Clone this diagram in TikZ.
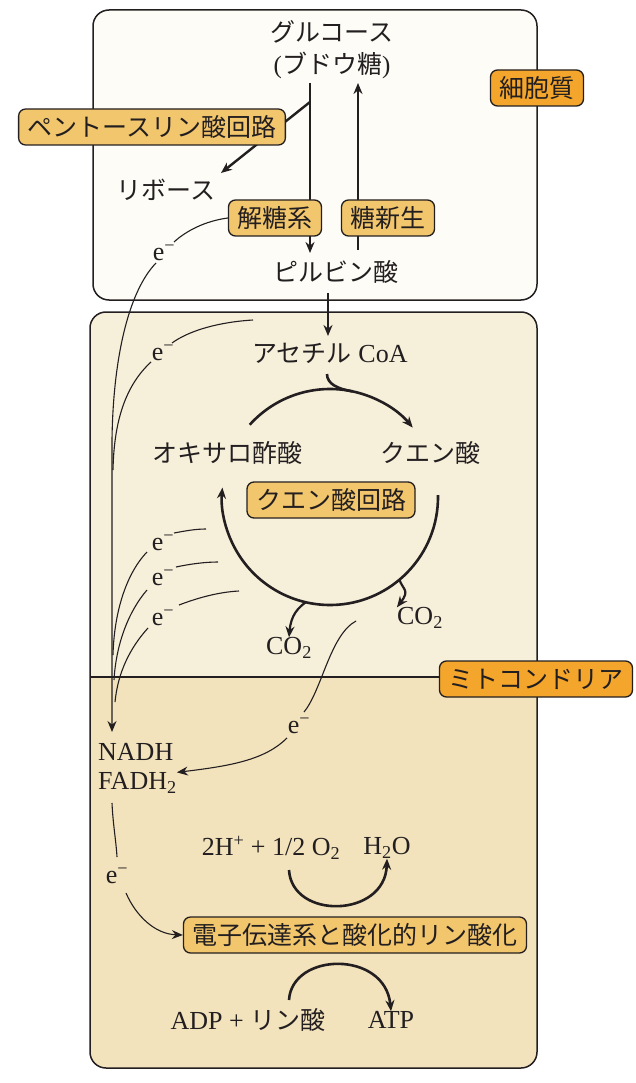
\documentclass[tikz,border=0pt]{standalone}
\usepackage{fontspec}
\setmainfont{Liberation Serif}
\newfontfamily\jp{Noto Sans CJK JP}
\usetikzlibrary{arrows.meta,calc}
\definecolor{ink}{HTML}{231F20}
\definecolor{cytofill}{HTML}{FDFCF6}
\definecolor{mitoup}{HTML}{F6EFDA}
\definecolor{mitolow}{HTML}{F2E3BD}
\definecolor{tagfill}{HTML}{F2C66C}
\definecolor{placefill}{HTML}{F4A52B}
\begin{document}
\begin{tikzpicture}[x=1pt,y=-1pt,
  every node/.style={text=ink,inner sep=0pt},
  jtxt/.style={font=\fontsize{25}{28}\selectfont\jp},
  ltxt/.style={font=\fontsize{26}{28}\selectfont},
  tagbox/.style={draw=ink,line width=1.3pt,fill=tagfill,rounded corners=7pt,
     font=\fontsize{25}{28}\selectfont\jp,inner xsep=9pt,inner ysep=0pt,minimum height=36pt},
  placebox/.style={tagbox,fill=placefill},
  tip/.style={-{Stealth[length=11pt,width=9pt]}},
  flow/.style={draw=ink,line width=2pt},
  cycl/.style={draw=ink,line width=2.6pt},
  eline/.style={draw=ink,line width=1.1pt},
  frame/.style={draw=ink,line width=1.5pt,rounded corners=16pt}]
\useasboundingbox (0,0) rectangle (635,1083);
\fill[white] (0,0) rectangle (635,1083);
% compartments
\path[frame,fill=cytofill] (93,10) rectangle (537,300);
\begin{scope}
  \clip[rounded corners=16pt] (90,312) rectangle (537,1068);
  \fill[mitoup] (90,312) rectangle (537,677);
  \fill[mitolow] (90,677) rectangle (537,1068);
\end{scope}
\path[frame] (90,312) rectangle (537,1068);
\draw[ink,line width=1.3pt] (90,677) -- (537,677);

% text nodes
\node[jtxt] (glc) at (332,32) {グルコース};
\node[jtxt] (glc2) at (332,65) {{\rmfamily(}ブドウ糖{\rmfamily)}};
\node[jtxt] (rib) at (166,190) {リボース};
\node[jtxt] (pyr) at (336,272) {ピルビン酸};
\node[jtxt] (acoa) at (330,353) {アセチル{\rmfamily\fontsize{26}{28}\selectfont\ CoA}};
\node[jtxt] (oaa) at (227,453) {オキサロ酢酸};
\node[jtxt] (cit) at (430,453) {クエン酸};
\node[ltxt] (co2a) at (420,618) {CO\textsubscript{2}};
\node[ltxt] (co2b) at (289,648) {CO\textsubscript{2}};
\node[ltxt,anchor=west] (nadh) at (98,752) {NADH};
\node[ltxt,anchor=west] (fadh) at (98,783) {FADH\textsubscript{2}};
\node[ltxt] (wat) at (271,848) {2H\textsuperscript{+} + 1/2 O\textsubscript{2}};
\node[ltxt] (h2o) at (387,848) {H\textsubscript{2}O};
\node[ltxt] (adp) at (248,1020) {ADP + {\jp\fontsize{25}{28}\selectfont リン酸}};
\node[ltxt] (atp) at (391,1020) {ATP};
% electrons
\node[ltxt] (e1) at (164,253) {e\textsuperscript{−}};
\node[ltxt] (e2) at (163,353) {e\textsuperscript{−}};
\node[ltxt] (e3) at (163,543) {e\textsuperscript{−}};
\node[ltxt] (e4) at (163,578) {e\textsuperscript{−}};
\node[ltxt] (e5) at (163,618) {e\textsuperscript{−}};
\node[ltxt] (e6) at (299,726) {e\textsuperscript{−}};
\node[ltxt] (e7) at (117,876) {e\textsuperscript{−}};

% main flow arrows
\coordinate (g1) at (310,83);
\coordinate (g2) at (310,253);
\coordinate (u1) at (358,250);
\coordinate (u2) at (358,83);
\coordinate (bp) at (310,102);
\coordinate (rt) at (221,173);
\draw[flow,tip] (g1) -- (g2);
\draw[flow,tip] (u1) -- (u2);
\draw[flow,tip,line width=2.4pt] (bp) -- (rt);
\coordinate (p1) at (328,293);
\coordinate (p2) at (328,336);
\draw[flow,tip] (p1) -- (p2);

% tags
\node[tagbox] (ppp) at (152,127) {ペントースリン酸回路};
\node[tagbox] (glyco) at (275,218) {解糖系};
\node[tagbox] (neo) at (388,218) {糖新生};
\node[tagbox] (tca) at (331,500) {クエン酸回路};
\node[tagbox] (etc) at (355,935) {電子伝達系と酸化的リン酸化};
\node[placebox] (cyto) at (537,88) {細胞質};
\node[placebox] (mito) at (536,679) {ミトコンドリア};

% citric acid cycle
\coordinate (cc) at (330,497);
\draw[cycl,tip] ($(cc)+(-138:108)$) arc[start angle=-138,end angle=-40,radius=108];
\draw[cycl,tip] ($(cc)+(-1:108)$) arc[start angle=-1,end angle=185,radius=108];
\coordinate (k1) at (327,374);
\draw[cycl] (k1) .. controls (327,384) and (338,389) .. ($(cc)+(-78:108)$);
\draw[flow,tip,line width=2.2pt] ($(cc)+(50:108)$) .. controls (403,590) and (410,590) .. (co2a.north west);
\draw[flow,tip,line width=2.2pt] ($(cc)+(103:108)$) .. controls (298,608) and (291,615) .. (co2b.north);

% electron paths
\coordinate (a1) at (174,242);
\coordinate (a2) at (156,263);
\coordinate (nd) at (112,732);
\draw[eline] (glyco.west) .. controls (205,221) and (186,231) .. (a1);
\draw[eline,tip] (a2) .. controls (128,292) and (113,360) .. (112,440) -- (nd);
\coordinate (b0) at (253,320);
\coordinate (b1) at (172,343);
\coordinate (b2) at (151,362);
\coordinate (b3) at (113,470);
\draw[eline] (b0) .. controls (220,322) and (190,330) .. (b1);
\draw[eline] (b2) .. controls (126,385) and (114,420) .. (b3);
\coordinate (c1) at (174,533); \coordinate (c2) at (206,529);
\coordinate (c3) at (176,567); \coordinate (c4) at (218,562);
\coordinate (c5) at (179,605); \coordinate (c6) at (239,591);
\draw[eline] (c1) .. controls (185,531) and (195,529) .. (c2);
\draw[eline] (c3) .. controls (190,564) and (205,562) .. (c4);
\draw[eline] (c5) .. controls (200,597) and (220,592) .. (c6);
\coordinate (d1) at (147,552); \coordinate (d2) at (113,655);
\coordinate (d3) at (147,590); \coordinate (d4) at (114,680);
\coordinate (d5) at (148,628); \coordinate (d6) at (115,702);
\draw[eline] (d1) .. controls (125,575) and (114,615) .. (d2);
\draw[eline] (d3) .. controls (128,612) and (116,645) .. (d4);
\draw[eline] (d5) .. controls (130,648) and (118,672) .. (d6);
\coordinate (f0) at (356,621);
\coordinate (f1) at (304,712);
\coordinate (f2) at (287,738);
\draw[eline] (f0) .. controls (330,635) and (322,690) .. (f1);
\draw[eline,tip] (f2) .. controls (265,760) and (230,766) .. (fadh.north east);
\coordinate (h1) at (112,803);
\coordinate (h2) at (117,857);
\coordinate (h3) at (126,893);
\draw[eline] (h1) .. controls (113,825) and (116,840) .. (h2);
\draw[eline,tip] (h3) .. controls (136,916) and (155,934) .. (etc.west);

% lower arcs
\coordinate (w1) at (289,870);
\draw[cycl,tip] (w1) .. controls (292,920) and (385,918) .. (h2o.south);
\coordinate (q1) at (289,1000);
\draw[cycl,tip] (q1) .. controls (292,952) and (385,950) .. (atp.north);
\end{tikzpicture}
\end{document}
